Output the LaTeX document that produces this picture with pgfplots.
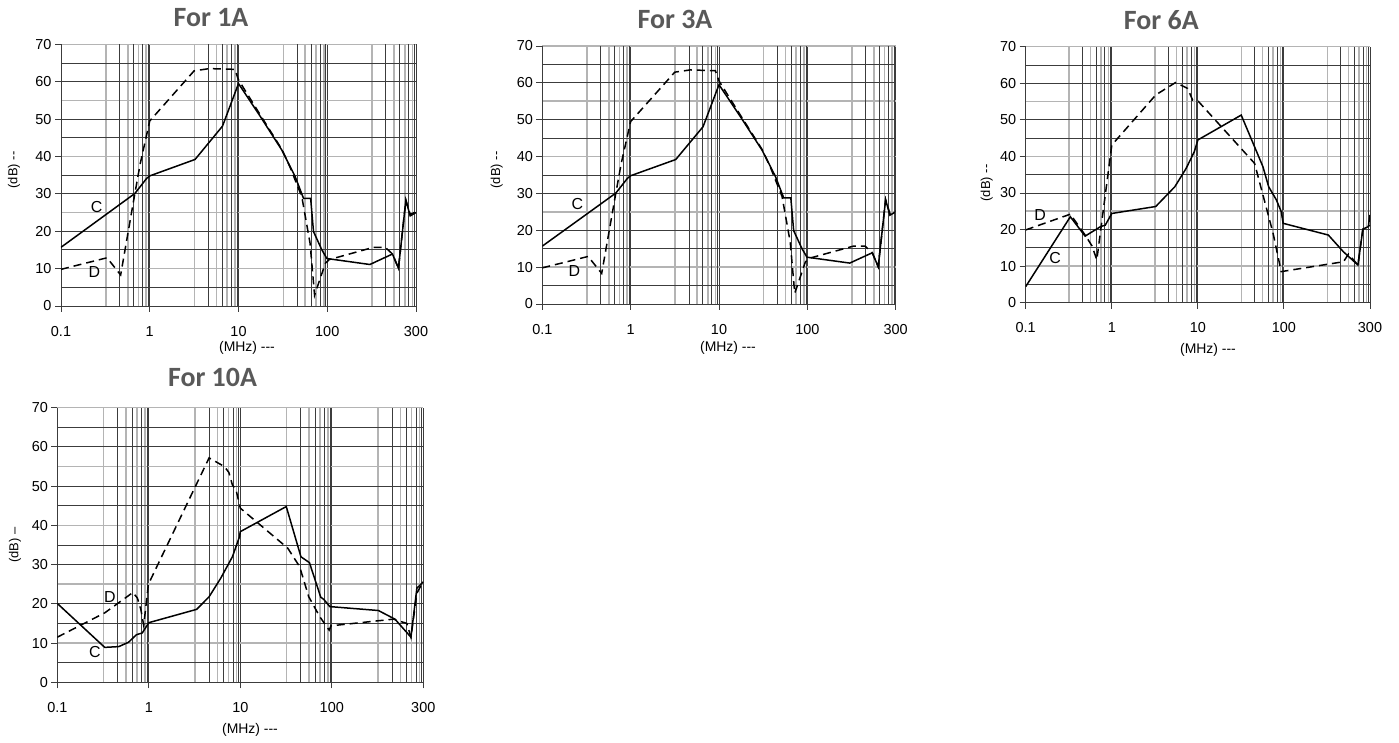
\documentclass[border=0pt]{standalone}
\usepackage{fontspec}
\setmainfont{Liberation Sans}
\newfontfamily\titlefont{Carlito}
\usepackage{pgfplots}
\usepackage{pgfplotstable}
\pgfplotsset{compat=1.18}

\definecolor{titlegray}{HTML}{595959}
\definecolor{gridlight}{HTML}{B4B4B4}
\definecolor{griddark}{HTML}{3C3C3C}

% 1A and 3A (same curves)
\pgfplotstableread{
f db
0.1 15.7
0.68 30.1
0.92 34.1
1.0 34.8
3.24 39.2
6.6 48.1
10 59.5
17.5 50.8
30.8 41.7
43.5 34.6
54 28.8
65 28.8
70 19.9
87 15
99 12.7
302 11.1
543 13.9
634 10.1
769 28.3
860 24.1
1000 25
}\oneC
\pgfplotstableread{
f db
0.1 9.8
0.33 12.9
0.47 8.3
0.68 30.1
0.78 38
1.0 49.5
3.16 62.9
4.7 63.5
9.1 63.3
10 60.5
17.5 51.2
30.8 41.9
38 37.2
51.7 29.2
64 16.8
72 2.9
95 11.4
105 12.4
332 15.7
450 15.7
543 13.9
634 10.1
769 28.3
860 24.5
1000 25.2
}\oneD

% 6A
\pgfplotstableread{
f db
0.1 4.4
0.33 23.5
0.49 18.2
0.74 20.8
0.84 21.2
1.0 24.4
3.24 26.3
5.4 31.7
7.3 36.7
9.1 41.3
10 44.5
31.9 51.3
57 37.2
66.5 31.7
81.7 28.1
93 24.9
98 21.7
328 18.5
492 13.9
724 10.3
826 20.1
955 20.8
1000 24
}\sixC
\pgfplotstableread{
f db
0.1 19.9
0.33 24.2
0.49 18.5
0.59 15.5
0.67 11.7
1.0 43.1
3.24 56.8
5.5 60.2
7.6 58.6
8.7 55.4
10 55.2
45.6 38.1
74.8 19.0
93 8.5
492 11.2
562 13.3
724 10.3
826 20.1
900 20.5
1000 21.2
}\sixD

% 10A
\pgfplotstableread{
f db
0.1 20.1
0.33 8.9
0.47 9.1
0.6 10.2
0.73 12.1
0.85 12.6
1.0 15.2
3.34 18.6
4.56 21.8
6.1 26.5
8.2 32
9.8 37.1
10 38.4
31.8 44.8
46 32
57 30.5
75.7 21.7
82 21.1
95 19.3
323 18.3
490 16.1
733 11.5
851 24
1000 25.6
}\tenC
\pgfplotstableread{
f db
0.1 11.5
0.33 17.7
0.67 22.9
0.75 21.5
0.82 18.5
0.88 14.5
0.99 25
4.56 57.2
6.7 55
7.5 53.5
8.2 50.3
9 49
10 44.4
33 34.2
44.5 29.5
56 21.8
74 16.7
93.6 13.3
98 14.4
473 16.1
661 15
733 11.5
851 22.7
930 24.4
1000 24.7
}\tenD

% common look of the four panels
\pgfplotsset{
  scale only axis,
  axis line style={griddark, line width=0.9bp},
  major grid style={griddark, line width=0.9bp},
  minor grid style={gridlight, line width=1.6bp},
  tick align=outside,
  major tick length=6bp,
  minor tick length=0pt,
  tick style={griddark, line width=0.9bp},
  tick label style={font=\fontsize{14.5}{16}\selectfont},
  yticklabel style={inner sep=0pt, xshift=-3.3bp},
  xticklabel style={inner sep=0pt, yshift=-14bp},
}

\begin{document}
\begin{tikzpicture}
\path[use as bounding box] (0,0) rectangle (1399bp,743bp);

% For 1A
\begin{axis}[at={(61bp,437bp)}, anchor=south west, width=355bp, height=261.7bp,
    xmode=log, xmin=0.1, xmax=1000, ymin=0, ymax=70,
    axis lines*=left,
    xtick={0.1,1,10,100,1000}, xticklabels={0.1,1,10,100,300},
    ytick={0,10,...,70},
    minor xtick={0.32,0.565,0.746,0.912,3.2,5.65,7.46,9.12,32,56.5,74.6,91.2,320,565,746,912},
    minor ytick={10,25,40,55,70},
    extra x ticks={0.457,0.658,0.832,0.966,4.57,6.58,8.32,9.66,45.7,65.8,83.2,96.6,457,658,832,966},
    extra y ticks={5,15,20,30,35,45,50,60,65},
    extra x tick style={grid=major, xticklabels={}, major tick length=0pt},
    extra y tick style={grid=major, yticklabels={}, major tick length=0pt},
    xmajorgrids=true, ymajorgrids=false, xminorgrids=true, yminorgrids=true,
    /pgf/number format/assume math mode=true]
\addplot[black, line width=1.5bp] table[x=f,y=db] {\oneC};
\addplot[black, line width=1.5bp, dash pattern=on 8bp off 5bp] table[x=f,y=db] {\oneD};
\end{axis}

% For 3A
\begin{axis}[at={(542.3bp,439bp)}, anchor=south west, width=353.4bp, height=258bp,
    xmode=log, xmin=0.1, xmax=1000, ymin=0, ymax=70,
    axis lines*=left,
    xtick={0.1,1,10,100,1000}, xticklabels={0.1,1,10,100,300},
    ytick={0,10,...,70},
    minor xtick={0.32,0.565,0.746,0.912,3.2,5.65,7.46,9.12,32,56.5,74.6,91.2,320,565,746,912},
    minor ytick={10,25,40,55,70},
    extra x ticks={0.457,0.658,0.832,0.966,4.57,6.58,8.32,9.66,45.7,65.8,83.2,96.6,457,658,832,966},
    extra y ticks={5,15,20,30,35,45,50,60,65},
    extra x tick style={grid=major, xticklabels={}, major tick length=0pt},
    extra y tick style={grid=major, yticklabels={}, major tick length=0pt},
    xmajorgrids=true, ymajorgrids=false, xminorgrids=true, yminorgrids=true,
    /pgf/number format/assume math mode=true]
\addplot[black, line width=1.5bp] table[x=f,y=db] {\oneC};
\addplot[black, line width=1.5bp, dash pattern=on 8bp off 5bp] table[x=f,y=db] {\oneD};
\end{axis}

% For 6A
\begin{axis}[at={(1025.7bp,440.3bp)}, anchor=south west, width=344.3bp, height=256bp,
    xmode=log, xmin=0.1, xmax=1000, ymin=0, ymax=70,
    axis lines*=left,
    xtick={0.1,1,10,100,1000}, xticklabels={0.1,1,10,100,300},
    ytick={0,10,...,70},
    minor xtick={0.32,0.565,0.746,0.912,3.2,5.65,7.46,9.12,32,56.5,74.6,91.2,320,565,746,912},
    minor ytick={10,25,40,55,70},
    extra x ticks={0.457,0.658,0.832,0.966,4.57,6.58,8.32,9.66,45.7,65.8,83.2,96.6,457,658,832,966},
    extra y ticks={5,15,20,30,35,45,50,60,65},
    extra x tick style={grid=major, xticklabels={}, major tick length=0pt},
    extra y tick style={grid=major, yticklabels={}, major tick length=0pt},
    xmajorgrids=true, ymajorgrids=false, xminorgrids=true, yminorgrids=true,
    /pgf/number format/assume math mode=true]
\addplot[black, line width=1.5bp] table[x=f,y=db] {\sixC};
\addplot[black, line width=1.5bp, dash pattern=on 8bp off 5bp] table[x=f,y=db] {\sixD};
\end{axis}

% For 10A
\begin{axis}[at={(57.3bp,60.7bp)}, anchor=south west, width=366bp, height=274.6bp,
    xmode=log, xmin=0.1, xmax=1000, ymin=0, ymax=70,
    axis lines*=left,
    xtick={0.1,1,10,100,1000}, xticklabels={0.1,1,10,100,300},
    ytick={0,10,...,70},
    minor xtick={0.32,0.565,0.746,0.912,3.2,5.65,7.46,9.12,32,56.5,74.6,91.2,320,565,746,912},
    minor ytick={10,25,40,55,70},
    extra x ticks={0.457,0.658,0.832,0.966,4.57,6.58,8.32,9.66,45.7,65.8,83.2,96.6,457,658,832,966},
    extra y ticks={5,15,20,30,35,45,50,60,65},
    extra x tick style={grid=major, xticklabels={}, major tick length=0pt},
    extra y tick style={grid=major, yticklabels={}, major tick length=0pt},
    xmajorgrids=true, ymajorgrids=false, xminorgrids=true, yminorgrids=true,
    /pgf/number format/assume math mode=true]
\addplot[black, line width=1.5bp] table[x=f,y=db] {\tenC};
\addplot[black, line width=1.5bp, dash pattern=on 8bp off 5bp] table[x=f,y=db] {\tenD};
\end{axis}

% titles
\begin{scope}[every node/.style={font=\titlefont\bfseries\fontsize{28}{30}\selectfont, text=titlegray}]
\node at (211bp,725.5bp) {For 1A};
\node at (675bp,724bp) {For 3A};
\node at (1161.3bp,722.5bp) {For 6A};
\node at (212.5bp,366bp) {For 10A};
\end{scope}

% axis labels
\begin{scope}[every node/.style={font=\fontsize{13}{15}\selectfont}]
\node[rotate=90] at (14bp,573bp) {(dB) -{}-};
\node[rotate=90] at (496.7bp,573bp) {(dB) -{}-};
\node[rotate=90] at (986.7bp,560bp) {(dB) -{}-};
\node[rotate=90] at (15bp,198bp) {(dB) –};
\end{scope}
\begin{scope}[every node/.style={font=\fontsize{14}{16}\selectfont}]
\node at (247bp,395bp) {(MHz) -{}-{}-};
\node at (728bp,395bp) {(MHz) -{}-{}-};
\node at (1208bp,393bp) {(MHz) -{}-{}-};
\node at (250bp,13bp) {(MHz) -{}-{}-};
\end{scope}

% curve names
\begin{scope}[every node/.style={font=\fontsize{16}{18}\selectfont}]
\node at (96.7bp,536.3bp) {C};
\node at (94.3bp,471.3bp) {D};
\node at (577.3bp,539bp) {C};
\node at (574.3bp,472.3bp) {D};
\node at (1040bp,528bp) {D};
\node at (1055bp,484.7bp) {C};
\node at (110bp,146.3bp) {D};
\node at (95bp,91.3bp) {C};
\end{scope}
\end{tikzpicture}
\end{document}
